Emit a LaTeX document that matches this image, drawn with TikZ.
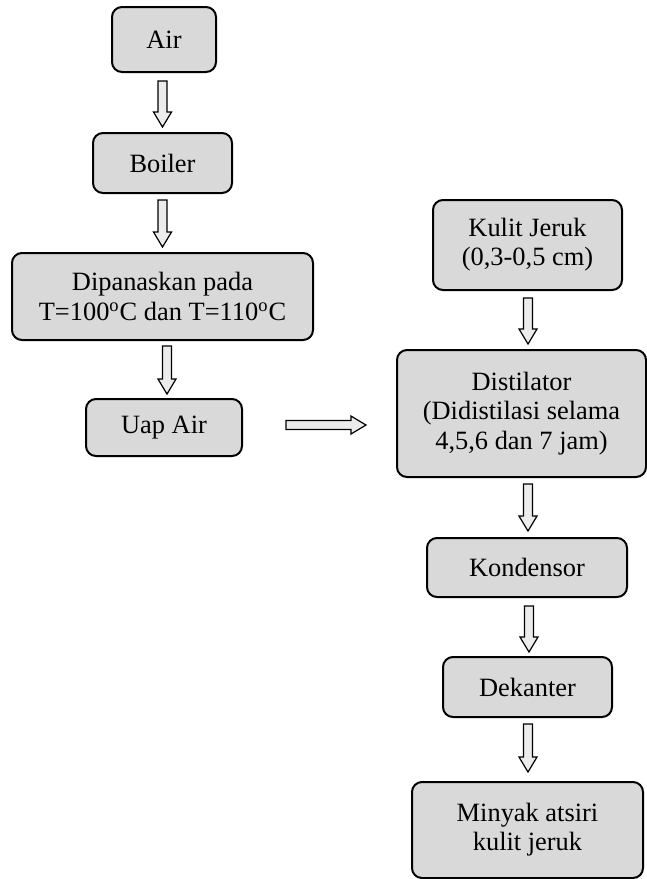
\documentclass[tikz,border=0pt]{standalone}
\usepackage{fontspec}
\setmainfont{Liberation Serif}
\usetikzlibrary{calc}
\definecolor{abu}{HTML}{D9D9D9}

% block arrows: #1 = start, #2 = tip
\newcommand{\panahturun}[2]{%
  \draw[panah] ($(#2 |- #1)+(-4.5,0)$) -- ($(#2 |- #1)+(4.5,0)$) -- ($(#2)+(4.5,-15)$) -- ($(#2)+(9,-15)$) -- (#2) -- ($(#2)+(-9,-15)$) -- ($(#2)+(-4.5,-15)$) -- cycle;}
\newcommand{\panahkanan}[2]{%
  \draw[panah] ($(#1 -| #1)+(0,-4.5)$) -- ($(#1 -| #2)+(-15,-4.5)$) -- ($(#1 -| #2)+(-15,-9)$) -- (#1 -| #2) -- ($(#1 -| #2)+(-15,9)$) -- ($(#1 -| #2)+(-15,4.5)$) -- ($(#1)+(0,4.5)$) -- cycle;}

\begin{document}
\begin{tikzpicture}[x=0.5pt, y=-0.5pt, kotak/.style={draw, fill=abu, rounded corners=5pt, line width=1pt, inner sep=0pt, align=center, font=\fontsize{13.2}{14.6}\selectfont}, panah/.style={draw, fill=gray!15, line width=0.6pt, line join=miter}]
            \useasboundingbox (0,0) rectangle (647,879);
            % nodes
            \node[kotak, minimum width=52pt, minimum height=32.5pt] (air) at (164,39.5) {Air};
            \node[kotak, minimum width=69.5pt, minimum height=30pt] (boiler) at (162.5,163) {Boiler};
            \node[kotak, minimum width=150.5pt, minimum height=43.5pt] (panas) at (162.5,296.5) {Dipanaskan pada\\T=100\textsuperscript{o}C dan T=110\textsuperscript{o}C};
            \node[kotak, minimum width=78pt, minimum height=28.5pt] (uap) at (164,427.5) {Uap Air};

            \node[kotak, minimum width=94.5pt, minimum height=45pt] (kulit) at (527.5,245) {Kulit Jeruk\\(0,3-0,5 cm)};
            \node[kotak, minimum width=124.5pt, minimum height=63.5pt] (distilator) at (521.5,413.5) {Distilator\\(Didistilasi selama\\4,5,6 dan 7 jam)};
            \node[kotak, minimum width=100pt, minimum height=29.5pt] (kondensor) at (527,567.5) {Kondensor};
            \node[kotak, minimum width=84.5pt, minimum height=30pt] (dekanter) at (527.5,687) {Dekanter};
            \node[kotak, minimum width=115.5pt, minimum height=48pt] (minyak) at (527.5,830) {Minyak atsiri\\kulit jeruk};

            % arrow ends
            \coordinate (a1) at ($(air.south)+(0,8)$);
            \coordinate (b1) at ($(boiler.north)+(0,-5)$);
            \coordinate (a2) at ($(boiler.south)+(0,6)$);
            \coordinate (b2) at ($(panas.north)+(0,-5)$);
            \coordinate (a3) at ($(panas.south)+(0,5)$);
            \coordinate (b3) at ($(uap.north)+(3,-4)$);
            \coordinate (a4) at ($(kulit.south)+(0,7)$);
            \coordinate (b4) at ($(distilator.north)+(6.5,-5)$);
            \coordinate (a5) at ($(distilator.south)+(0,6)$);
            \coordinate (b5) at ($(kondensor.north)+(1,-6)$);
            \coordinate (a6) at ($(kondensor.south)+(0,8)$);
            \coordinate (b6) at ($(dekanter.north)+(1.5,-4)$);
            \coordinate (a7) at ($(dekanter.south)+(0,6)$);
            \coordinate (b7) at ($(minyak.north)+(0.5,-9)$);
            \coordinate (a8) at ($(uap.east)+(43,-2.5)$);
            \coordinate (b8) at ($(distilator.west)+(-30,0)$);

            % edges
            \panahturun{a1}{b1}
            \panahturun{a2}{b2}
            \panahturun{a3}{b3}
            \panahturun{a4}{b4}
            \panahturun{a5}{b5}
            \panahturun{a6}{b6}
            \panahturun{a7}{b7}
            \panahkanan{a8}{b8}
        \end{tikzpicture}
\end{document}
